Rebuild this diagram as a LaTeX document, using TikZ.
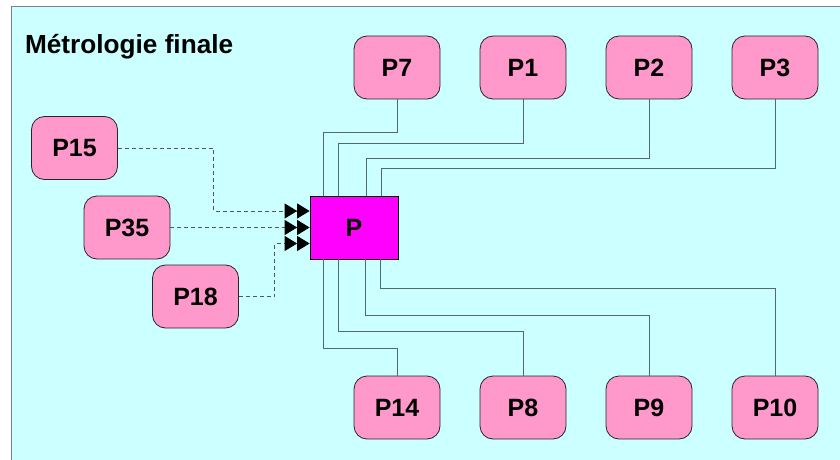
\documentclass[tikz,border=0pt]{standalone}
\usepackage{fontspec}
\setmainfont{Liberation Sans}
\usetikzlibrary{arrows.meta}
\definecolor{bgc}{RGB}{204,255,255}
\definecolor{pinkc}{RGB}{255,153,204}
\definecolor{magc}{RGB}{255,0,255}
\definecolor{connc}{RGB}{85,105,105}
\definecolor{dashc}{RGB}{85,85,85}
\definecolor{framec}{RGB}{120,130,130}
\begin{document}
\begin{tikzpicture}[x=1pt,y=-1pt,
  pbox/.style={draw=black!85,fill=pinkc,rounded corners=13pt,minimum width=86pt,minimum height=63pt,inner sep=0pt,font=\fontsize{25}{28}\selectfont\bfseries,line width=0.8pt},
  mainbox/.style={draw=black,fill=magc,minimum width=88pt,minimum height=63pt,inner sep=0pt,font=\fontsize{25}{28}\selectfont\bfseries,line width=0.8pt},
  conn/.style={draw=connc,line width=1pt},
  dconn/.style={draw=dashc,line width=1pt,dash pattern=on 4pt off 3pt,
    -{Triangle[length=12.5pt,width=15pt,color=black]Triangle[length=12.5pt,width=15pt,color=black]}}]
\useasboundingbox (0,0) rectangle (840,460);
\fill[bgc] (11.5,6.5) rectangle (850,470);
\draw[framec,line width=1.5pt] (11.5,470) -- (11.5,6.5) -- (850,6.5);
\node[anchor=base west,font=\fontsize{26.2}{30}\selectfont\bfseries] (title) at (21.5,54) {Métrologie finale};
% main
\node[mainbox] (P) at (354,227.5) {P};
% top row
\node[pbox] (P7) at (397,67.5) {P7};
\node[pbox] (P1) at (523,67.5) {P1};
\node[pbox] (P2) at (649,67.5) {P2};
\node[pbox] (P3) at (775,67.5) {P3};
% bottom row
\node[pbox] (P14) at (397,407.5) {P14};
\node[pbox] (P8) at (523,407.5) {P8};
\node[pbox] (P9) at (649,407.5) {P9};
\node[pbox] (P10) at (775,407.5) {P10};
% left
\node[pbox] (P15) at (74.5,148) {P15};
\node[pbox] (P35) at (127,227.5) {P35};
\node[pbox] (P18) at (195.5,296.5) {P18};
% top connectors
\draw[conn] ([xshift=14pt]P.north west) |- ([yshift=-33pt]P7.south) -- (P7.south);
\draw[conn] ([xshift=29pt]P.north west) |- ([yshift=-44pt]P1.south) -- (P1.south);
\draw[conn] ([xshift=57pt]P.north west) |- ([yshift=-59pt]P2.south) -- (P2.south);
\draw[conn] ([xshift=72pt]P.north west) |- ([yshift=-69pt]P3.south) -- (P3.south);
% bottom connectors
\draw[conn] ([xshift=14pt]P.south west) |- ([yshift=27pt]P14.north) -- (P14.north);
\draw[conn] ([xshift=29pt]P.south west) |- ([yshift=44pt]P8.north) -- (P8.north);
\draw[conn] ([xshift=56pt]P.south west) |- ([yshift=60pt]P9.north) -- (P9.north);
\draw[conn] ([xshift=71pt]P.south west) |- ([yshift=87pt]P10.north) -- (P10.north);
% dashed inputs
\draw[dconn] (P15.east) -- ++(96pt,0) |- ([yshift=16.5pt]P.west);
\draw[dconn] (P35.east) -- (P.west);
\draw[dconn] (P18.east) -- ++(36pt,0) |- ([yshift=-16pt]P.west);
\end{tikzpicture}
\end{document}
